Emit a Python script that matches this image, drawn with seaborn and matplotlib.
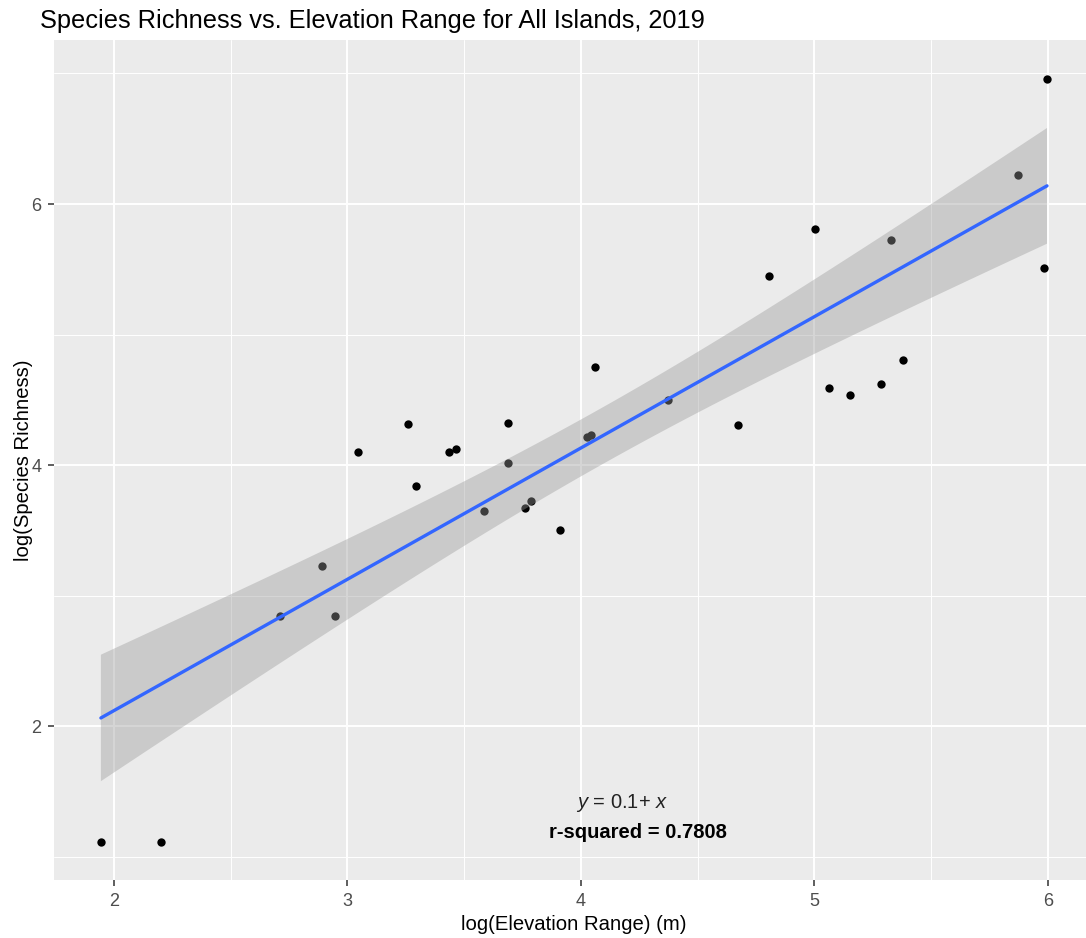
import matplotlib
matplotlib.use("Agg")
import matplotlib.pyplot as plt
import matplotlib.ticker as ticker
import numpy as np
import pandas as pd
import seaborn as sns

# log(Elevation Range) (m) and log(Species Richness)
log_elevation = [1.944, 2.201, 2.711, 2.891, 2.946, 3.045, 3.259, 3.293, 3.435, 3.465,
                 3.585, 3.687, 3.687, 3.760, 3.786, 3.910, 4.026, 4.043, 4.060, 4.373,
                 4.672, 4.805, 5.002, 5.062, 5.152, 5.285, 5.328, 5.379, 5.872, 5.983,
                 5.996]
log_richness = [1.111, 1.111, 2.843, 3.226, 2.843, 4.100, 4.314, 3.839, 4.100, 4.123,
                3.648, 4.322, 4.015, 3.670, 3.724, 3.502, 4.215, 4.230, 4.751, 4.498,
                4.307, 5.448, 5.808, 4.590, 4.536, 4.621, 5.724, 4.805, 6.222, 5.510,
                6.958]
x_ticks = [2, 3, 4, 5, 6]
y_ticks = [2, 4, 6]
equation_text = "$y$ = 0.1+ $x$"
r2_text = "r-squared = 0.7808"

df = pd.DataFrame({"elev": log_elevation, "rich": log_richness})

sns.set_theme(style="darkgrid", rc={
    "axes.facecolor": "#EBEBEB",
    "grid.color": "white",
    "axes.edgecolor": "none",
})
plt.rcParams["font.family"] = ["Liberation Sans", "DejaVu Sans"]
plt.rcParams["mathtext.fontset"] = "custom"
plt.rcParams["mathtext.it"] = "Liberation Sans:italic"
plt.rcParams["mathtext.rm"] = "Liberation Sans"

fig = plt.figure(figsize=(10.86, 9.38), dpi=100)
ax = fig.add_axes([0.0497, 0.0618, 0.9503, 0.8956])

sns.regplot(
    data=df, x="elev", y="rich", ax=ax, ci=None,
    scatter_kws=dict(s=36, color="black", linewidths=0, alpha=1),
    line_kws=dict(color="#3366FF", linewidth=2.4, zorder=3),
)

# analytic 95% confidence band like geom_smooth(method = "lm")
x = df["elev"].to_numpy()
y = df["rich"].to_numpy()
n = len(x)
slope, intercept = np.polyfit(x, y, 1)
resid = y - (intercept + slope * x)
s_err = np.sqrt(np.sum(resid ** 2) / (n - 2))
grid = np.linspace(x.min(), x.max(), 80)
fit = intercept + slope * grid
se = s_err * np.sqrt(1 / n + (grid - x.mean()) ** 2 / np.sum((x - x.mean()) ** 2))
t_crit = 2.045  # t(0.975, df = 29)
ax.fill_between(grid, fit - t_crit * se, fit + t_crit * se,
                facecolor="#999999", alpha=0.4, edgecolor="none", zorder=2)

ax.set_xlim(1.743, 6.163)
ax.set_ylim(0.820, 7.257)
ax.set_xticks(x_ticks)
ax.set_yticks(y_ticks)
ax.xaxis.set_minor_locator(ticker.FixedLocator([2.5, 3.5, 4.5, 5.5]))
ax.yaxis.set_minor_locator(ticker.FixedLocator([1, 3, 5, 7]))
ax.grid(which="major", color="white", linewidth=1.4)
ax.grid(which="minor", color="white", linewidth=0.7)
ax.set_axisbelow(True)
ax.tick_params(which="major", length=4, width=1.1, color="#333333",
               labelsize=13, labelcolor="#4D4D4D", pad=5, bottom=True, left=True)
ax.tick_params(which="minor", length=0)

ax.set_xlabel("log(Elevation Range) (m)", fontsize=14.6, color="black", labelpad=4)
ax.xaxis.label.set_x(0.504)
ax.set_ylabel("log(Species Richness)", fontsize=14.6, color="black", labelpad=-1)
fig.text(0.037, 0.978, "Species Richness vs. Elevation Range for All Islands, 2019",
         fontsize=18.3, color="black", ha="left", va="center")

ax.text(4.176, 1.41, equation_text, fontsize=14.5, color="#222222", ha="center", va="center")
ax.text(4.244, 1.188, r2_text, fontsize=14.5, fontweight="bold", color="black",
        ha="center", va="center")

fig.savefig("out.png", dpi=100)
